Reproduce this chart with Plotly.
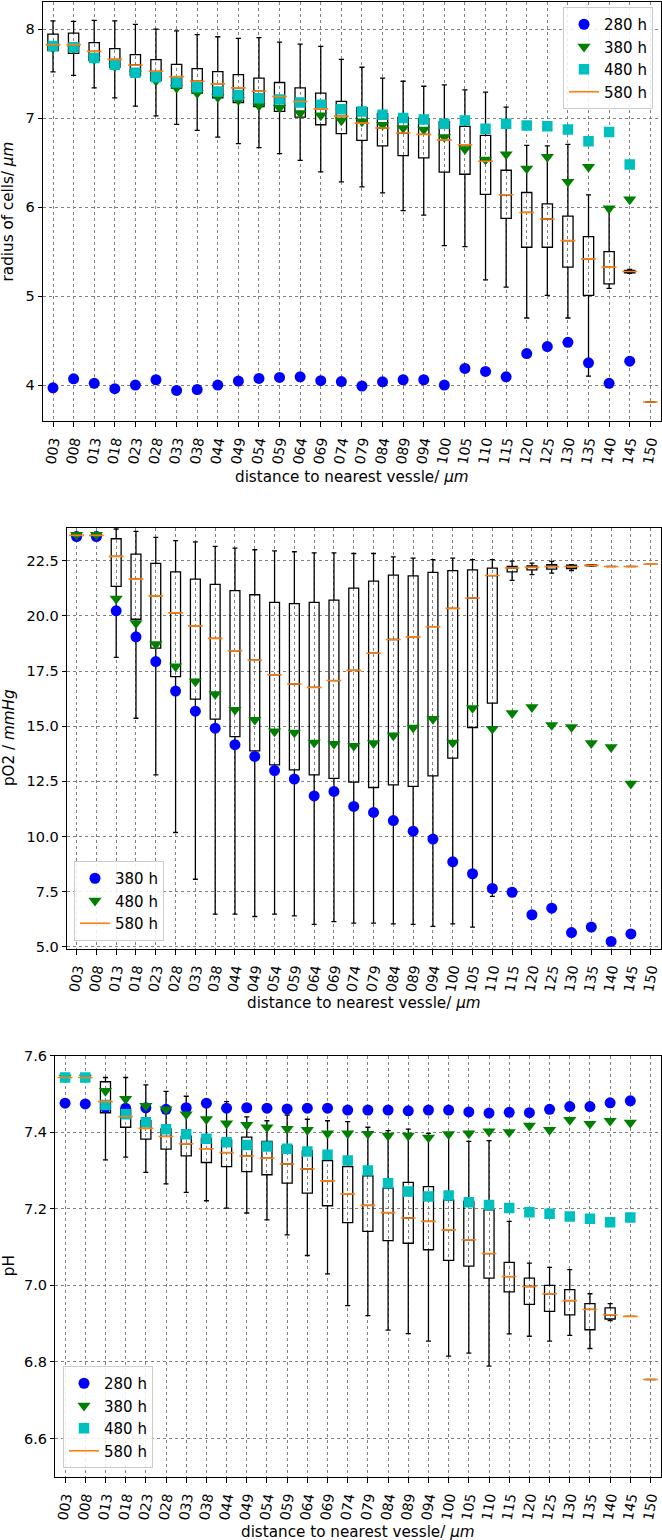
import plotly.graph_objects as go

# ---------------- data ----------------
cats = ['003', '008', '013', '018', '023', '028', '033', '038', '044', '049',
        '054', '059', '064', '069', '074', '079', '084', '089', '094', '100',
        '105', '110', '115', '120', '125', '130', '135', '140', '145', '150']

# radius of cells, 580 h box statistics
r_hi = [8.093, 8.086, 8.097, 8.093, 8.052, 8.0, 7.98, 7.937, 7.914, 7.896,
        7.903, 7.854, 7.832, 7.806, 7.66, 7.571, 7.448, 7.414, 7.358, 7.373,
        7.317, 7.291, 7.123, 6.694, 6.687, 6.705, 6.138, 5.966, 5.30, 3.81]
r_q3 = [7.944, 7.955, 7.847, 7.78, 7.713, 7.657, 7.604, 7.556, 7.522, 7.489,
        7.448, 7.4, 7.34, 7.28, 7.187, 7.116, 7.049, 7.011, 6.99, 6.96,
        6.907, 6.806, 6.414, 6.164, 6.037, 5.899, 5.668, 5.5, 5.29, 3.81]
r_med = [7.825, 7.825, 7.75, 7.66, 7.597, 7.526, 7.466, 7.414, 7.384, 7.34,
         7.302, 7.243, 7.187, 7.104, 7.022, 6.944, 6.888, 6.832, 6.817, 6.755,
         6.7, 6.515, 6.138, 5.94, 5.866, 5.623, 5.418, 5.325, 5.276, 3.81]
r_q1 = [7.757, 7.728, 7.645, 7.57, 7.478, 7.42, 7.336, 7.28, 7.228, 7.175,
        7.13, 7.075, 7.011, 6.925, 6.825, 6.75, 6.687, 6.578, 6.552, 6.393,
        6.369, 6.142, 5.873, 5.549, 5.549, 5.325, 5.007, 5.138, 5.262, 3.81]
r_lo = [7.519, 7.48, 7.34, 7.228, 7.134, 7.026, 6.93, 6.862, 6.787, 6.713,
        6.668, 6.6, 6.526, 6.396, 6.284, 6.228, 6.16, 5.96, 5.91, 5.568,
        5.556, 5.183, 5.1, 4.754, 5.007, 4.754, 4.1, 5.086, 5.255, 3.81]
r_280 = [3.97, 4.07, 4.02, 3.96, 4.0, 4.06, 3.94, 3.95, 4.0, 4.045,
         4.075, 4.086, 4.093, 4.05, 4.04, 3.99, 4.037, 4.06, 4.06, 4.0,
         4.187, 4.153, 4.093, 4.354, 4.433, 4.481, 4.25, 4.02, 4.269, None]
r_380 = [7.79, 7.78, 7.66, 7.58, 7.50, 7.42, 7.34, 7.28, 7.235, 7.2,
         7.138, 7.116, 7.056, 7.03, 6.974, 6.963, 6.925, 6.888, 6.87, 6.787,
         6.65, 6.534, 6.593, 6.433, 6.563, 6.284, 6.451, 5.985, 6.086, None]
r_480 = [7.81, 7.795, 7.675, 7.6, 7.51, 7.46, 7.40, 7.347, 7.30, 7.26,
         7.224, 7.21, 7.175, 7.149, 7.1, 7.075, 7.037, 7.0, 6.985, 6.937,
         6.974, 6.88, 6.937, 6.918, 6.907, 6.873, 6.739, 6.843, 6.478, None]

# pO2, 580 h box statistics
p_hi = [23.70, 23.70, 23.94, 23.83, 23.56, 23.41, 23.36, 23.15, 23.07, 23.0,
        22.95, 22.91, 22.86, 22.86, 22.83, 22.83, 22.68, 22.62, 22.55, 22.62,
        22.55, 22.55, 22.48, 22.39, 22.47, 22.32, 22.32, 22.24, 22.24, 22.35]
p_q3 = [23.68, 23.68, 23.5, 22.8, 22.38, 22.0, 21.67, 21.43, 21.15, 20.96,
        20.61, 20.56, 20.61, 20.72, 21.26, 21.58, 21.85, 21.82, 21.97, 22.05,
        22.09, 22.17, 22.24, 22.27, 22.32, 22.30, 22.31, 22.24, 22.24, 22.35]
p_med = [23.65, 23.65, 22.7, 21.67, 20.91, 20.14, 19.55, 18.98, 18.42, 17.99,
         17.33, 16.91, 16.76, 17.07, 17.53, 18.31, 18.93, 19.05, 19.51, 20.34,
         20.81, 21.83, 22.17, 22.2, 22.24, 22.24, 22.29, 22.24, 22.24, 22.35]
p_q1 = [23.62, 23.62, 21.34, 19.85, 18.54, 17.25, 16.23, 15.32, 14.53, 13.88,
        13.25, 13.02, 12.79, 12.63, 12.46, 12.22, 12.34, 12.27, 12.75, 13.55,
        14.94, 16.05, 22.0, 22.09, 22.12, 22.15, 22.27, 22.24, 22.24, 22.35]
p_lo = [23.60, 23.60, 18.12, 15.36, 12.79, 10.18, 8.06, 6.48, 6.48, 6.37,
        6.48, 6.40, 6.01, 6.14, 6.07, 6.07, 6.04, 6.01, 5.92, 6.04,
        5.89, 7.28, 21.61, 21.87, 21.94, 22.06, 22.26, 22.24, 22.24, 22.35]
p_380 = [23.6, 23.6, 20.23, 19.05, 17.93, 16.59, 15.68, 14.91, 14.16, 13.63,
         12.99, 12.6, 11.84, 12.04, 11.36, 11.09, 10.72, 10.24, 9.88, 8.85,
         8.31, 7.64, 7.47, 6.45, 6.75, 5.64, 5.89, 5.24, 5.58, None]
p_480 = [23.68, 23.68, 20.78, 19.67, 18.72, 17.71, 17.03, 16.45, 15.74, 15.29,
         14.76, 14.71, 14.26, 14.2, 14.11, 14.23, 14.58, 14.94, 15.33, 14.26,
         15.82, 14.88, 15.59, 15.86, 15.05, 14.96, 14.23, 14.05, 12.39, None]

# pH, 580 h box statistics
h_hi = [7.543, 7.543, 7.543, 7.543, 7.524, 7.507, 7.494, 7.482, 7.48, 7.44,
        7.43, 7.445, 7.434, 7.43, 7.428, 7.413, 7.404, 7.408, 7.397, 7.39,
        7.376, 7.378, 7.167, 7.058, 7.047, 7.041, 6.978, 6.952, 6.919, 6.754]
h_q3 = [7.543, 7.543, 7.532, 7.46, 7.43, 7.409, 7.39, 7.384, 7.38, 7.387,
        7.376, 7.365, 7.351, 7.326, 7.31, 7.286, 7.254, 7.269, 7.258, 7.223,
        7.219, 7.197, 7.06, 7.019, 7.0, 6.989, 6.952, 6.941, 6.919, 6.754]
h_med = [7.543, 7.543, 7.48, 7.441, 7.41, 7.389, 7.37, 7.357, 7.347, 7.338,
         7.332, 7.317, 7.304, 7.273, 7.239, 7.209, 7.19, 7.176, 7.167, 7.145,
         7.119, 7.083, 7.023, 6.997, 6.978, 6.96, 6.937, 6.923, 6.919, 6.754]
h_q1 = [7.543, 7.543, 7.451, 7.413, 7.382, 7.356, 7.338, 7.321, 7.31, 7.297,
        7.289, 7.267, 7.241, 7.208, 7.164, 7.141, 7.117, 7.11, 7.093, 7.065,
        7.05, 7.019, 6.983, 6.95, 6.932, 6.923, 6.884, 6.912, 6.919, 6.754]
h_lo = [7.543, 7.543, 7.328, 7.335, 7.295, 7.265, 7.243, 7.221, 7.202, 7.189,
        7.171, 7.132, 7.078, 7.03, 6.947, 6.921, 6.883, 6.874, 6.854, 6.815,
        6.823, 6.789, 6.873, 6.867, 6.854, 6.869, 6.835, 6.908, 6.919, 6.754]
h_280 = [7.476, 7.474, 7.465, 7.463, 7.464, 7.46, 7.464, 7.476, 7.463, 7.464,
         7.463, 7.461, 7.463, 7.463, 7.458, 7.458, 7.458, 7.456, 7.458, 7.458,
         7.453, 7.45, 7.452, 7.451, 7.46, 7.467, 7.467, 7.477, 7.482, None]
h_380 = [7.543, 7.543, 7.508, 7.487, 7.469, 7.46, 7.447, 7.434, 7.423, 7.419,
         7.413, 7.409, 7.406, 7.397, 7.397, 7.396, 7.391, 7.391, 7.386, 7.395,
         7.397, 7.402, 7.4, 7.417, 7.406, 7.432, 7.422, 7.43, 7.425, None]
h_480 = [7.543, 7.543, 7.471, 7.447, 7.426, 7.408, 7.395, 7.383, 7.374, 7.367,
         7.363, 7.357, 7.35, 7.341, 7.326, 7.3, 7.267, 7.245, 7.232, 7.235,
         7.217, 7.21, 7.202, 7.191, 7.187, 7.18, 7.174, 7.165, 7.177, None]

# ---------------- styling ----------------
BLUE = '#0000ff'
GREEN = '#008000'
CYAN = '#00bfbf'
ORANGE = '#ff7f0e'
FONT = 'DejaVu Sans'
FS = 15
W, H = 662, 1540

pos = list(range(len(cats)))
fig = go.Figure()


def add_panel(ax, lo, q1, med, q3, hi, series, legend):
    xa, ya = 'x' + ax, 'y' + ax
    fig.add_trace(go.Box(
        x=pos, q1=q1, median=med, q3=q3, lowerfence=lo, upperfence=hi,
        width=0.5, whiskerwidth=0.5, boxpoints=False,
        line=dict(color='black', width=1.3), fillcolor='rgba(0,0,0,0)',
        showlegend=False, hoverinfo='skip', xaxis=xa, yaxis=ya))
    for name, vals, color, sym, size in series:
        fig.add_trace(go.Scatter(
            x=pos, y=vals, mode='markers', name=name,
            marker=dict(color=color, symbol=sym, size=size, line=dict(width=0)),
            legend=legend, xaxis=xa, yaxis=ya))
    fig.add_trace(go.Scatter(
        x=pos, y=med, mode='markers', showlegend=False,
        marker=dict(symbol='line-ew', size=10.5, color=ORANGE,
                    line=dict(color=ORANGE, width=1.6)),
        xaxis=xa, yaxis=ya))
    fig.add_trace(go.Scatter(
        x=[None], y=[None], mode='lines', name='580 h',
        line=dict(color=ORANGE, width=1.6), legend=legend, xaxis=xa, yaxis=ya))


add_panel('', r_lo, r_q1, r_med, r_q3, r_hi,
          [('280 h', r_280, BLUE, 'circle', 11),
           ('380 h', r_380, GREEN, 'triangle-down', 11.5),
           ('480 h', r_480, CYAN, 'square', 10.5)], 'legend')
add_panel('2', p_lo, p_q1, p_med, p_q3, p_hi,
          [('380 h', p_380, BLUE, 'circle', 11),
           ('480 h', p_480, GREEN, 'triangle-down', 11.5)], 'legend2')
add_panel('3', h_lo, h_q1, h_med, h_q3, h_hi,
          [('280 h', h_280, BLUE, 'circle', 11),
           ('380 h', h_380, GREEN, 'triangle-down', 11.5),
           ('480 h', h_480, CYAN, 'square', 10.5)], 'legend3')


def px_x(v):
    return v / W


def px_y(v):
    return 1 - v / H


common_x = dict(tickmode='array', tickvals=pos, ticktext=cats, tickangle=-80,
                range=[-0.5, 29.5], showgrid=True, gridcolor='#808080',
                griddash='dot', gridwidth=1, showline=True, linecolor='black',
                linewidth=1, mirror=True, ticks='outside', ticklen=5,
                tickcolor='black', zeroline=False, automargin=False,
                ticklabeloverflow='allow', ticklabelstandoff=1,
                tickfont=dict(family=FONT, size=14, color='black'))
common_y = dict(showgrid=True, gridcolor='#808080', griddash='dot', gridwidth=1,
                showline=True, linecolor='black', linewidth=1, mirror=True,
                ticks='outside', ticklen=4, tickcolor='black', zeroline=False,
                automargin=False,
                tickfont=dict(family=FONT, size=14.5, color='black'))

panels = [
    # (x left px, top px, bottom px)
    (42.7, 1.5, 420.7),
    (66.7, 527.7, 948.5),
    (55.0, 1055.7, 1476.7),
]
right_px = 660.6

leg_common = dict(bgcolor='rgba(255,255,255,0.85)', bordercolor='#cccccc',
                  borderwidth=1, font=dict(family=FONT, size=FS, color='black'))

layout = dict(
    width=W, height=H, margin=dict(l=0, r=0, t=0, b=0),
    paper_bgcolor='white', plot_bgcolor='white',
    font=dict(family=FONT, size=FS, color='black'),
    xaxis=dict(common_x, domain=[px_x(panels[0][0]), px_x(right_px)], anchor='y'),
    yaxis=dict(common_y, domain=[px_y(panels[0][2]), px_y(panels[0][1])],
               range=[3.60, 8.31], tickvals=[4, 5, 6, 7, 8], anchor='x'),
    xaxis2=dict(common_x, domain=[px_x(panels[1][0]), px_x(right_px)], anchor='y2'),
    yaxis2=dict(common_y, domain=[px_y(panels[1][2]), px_y(panels[1][1])],
                range=[4.92, 24.0], tickvals=[5, 7.5, 10, 12.5, 15, 17.5, 20, 22.5],
                tickformat='.1f', anchor='x2'),
    xaxis3=dict(common_x, domain=[px_x(panels[2][0]), px_x(right_px)], anchor='y3'),
    yaxis3=dict(common_y, domain=[px_y(panels[2][2]), px_y(panels[2][1])],
                range=[6.5, 7.6], tickvals=[6.6, 6.8, 7.0, 7.2, 7.4, 7.6],
                tickformat='.1f', anchor='x3'),
    legend=dict(leg_common, x=px_x(653), y=px_y(7), xanchor='right', yanchor='top'),
    legend2=dict(leg_common, x=px_x(74), y=px_y(941), xanchor='left', yanchor='bottom'),
    legend3=dict(leg_common, x=px_x(63), y=px_y(1468), xanchor='left', yanchor='bottom'),
    showlegend=True,
)
fig.update_layout(layout)

xtitle = 'distance to nearest vessle/ <i>μm</i>'
ann = []
for (lx, top, bot), ty in zip(panels, [477.5, 1003.0, 1532.0]):
    ann.append(dict(text=xtitle, x=px_x((lx + right_px) / 2), y=px_y(ty),
                    xref='paper', yref='paper', xanchor='center', yanchor='middle',
                    showarrow=False, font=dict(family=FONT, size=15.2, color='black')))
ytitles = ['radius of cells/ <i>μm</i>', 'pO2 / <i>mmHg</i>', 'pH']
ycent_x = [8.3, 9.0, 9.0]
for (lx, top, bot), t, cx in zip(panels, ytitles, ycent_x):
    ann.append(dict(text=t, x=px_x(cx), y=px_y((top + bot) / 2),
                    xref='paper', yref='paper', xanchor='center', yanchor='middle',
                    textangle=-90, showarrow=False,
                    font=dict(family=FONT, size=15.2, color='black')))
fig.update_layout(annotations=ann)

fig.write_html('out.html',
               config={'displayModeBar': False},
               post_script="document.body.style.margin='0';"
                           "document.body.style.padding='0';"
                           "document.body.style.overflow='hidden';")
